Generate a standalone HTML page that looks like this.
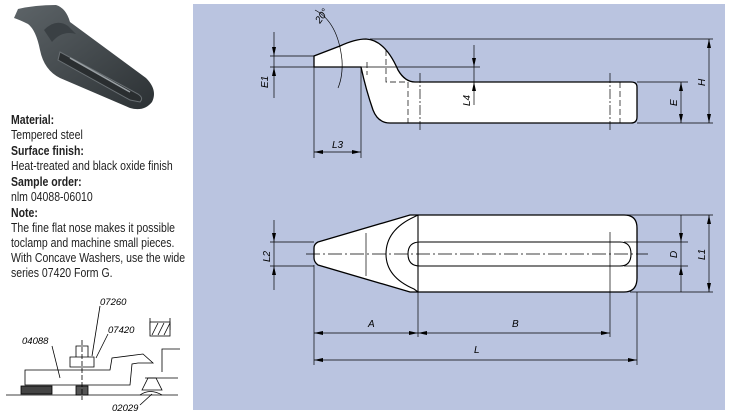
<!DOCTYPE html>
<html><head><meta charset="utf-8"><style>
body{margin:0;width:729px;height:416px;background:#fff;overflow:hidden;position:relative;font-family:"Liberation Sans",sans-serif}
#txt{position:absolute;left:11px;top:112px;transform:scaleX(0.84);transform-origin:0 0;font-size:12.5px;color:#222;line-height:15px;width:230px}
#txt b{display:block;margin-top:1px}
</style></head><body>
<svg width="729" height="416" style="position:absolute;left:0;top:0">
<defs><linearGradient id="g" x1="0" y1="0" x2="1" y2="1"><stop offset="0" stop-color="#5d6468"/><stop offset="1" stop-color="#2c3134"/></linearGradient></defs>
<path d="M14 18 L18 9 Q35 5 56 5 Q66 8 70 22 L146 78 Q158 90 152 102 Q144 112 130 108 L60 78 Q44 70 40 50 Q36 30 28 24 Q20 20 14 18 Z" fill="url(#g)"/>
<path d="M44 30 Q56 18 68 26 L76 34 Q62 30 52 42 Z" fill="#3a4044"/>
<path d="M60 52 L138 94 Q144 98 140 102 L130 100 L58 60 Z" fill="#2a2e30" stroke="#6a7074" stroke-width="1"/>
<path d="M70 58 L130 92" stroke="#9aa0a4" stroke-width="1.5"/>
<rect x="193" y="4" width="532" height="406" fill="#bac4e0"/>
<g stroke="#000" fill="none" stroke-width="0.7">
<path d="M314 56 L314 67 L361 67 Q366 90 373 110 Q378 123 390 123 L631 123 Q637 123 637 117 L637 87 Q637 82 631 82 L415 82 Q405 82 398 70 Q385 40 366 39 Q355 39 340 46 Z" fill="#fff" stroke-width="1.3"/>
<line x1="314" y1="67" x2="314" y2="158"/><line x1="361" y1="67" x2="361" y2="158"/>
<line x1="314" y1="152" x2="361" y2="152"/>
<line x1="270" y1="56" x2="314" y2="56"/><line x1="270" y1="67" x2="480" y2="67"/>
<line x1="274" y1="32" x2="274" y2="98"/>
<line x1="474" y1="45" x2="474" y2="105"/>
<line x1="370" y1="39" x2="713" y2="39"/><line x1="637" y1="123" x2="713" y2="123"/><line x1="637" y1="82" x2="688" y2="82"/>
<line x1="709" y1="39" x2="709" y2="123"/><line x1="681" y1="82" x2="681" y2="123"/>
<path d="M315 10 Q338 22 342 60 Q343 76 338 88"/>
<g stroke-dasharray="6 3"><path d="M386 50 L386 82 L405 82"/><line x1="408" y1="82" x2="408" y2="123"/><line x1="620" y1="82" x2="620" y2="123"/><line x1="367" y1="62" x2="367" y2="75"/></g>
<g stroke-dasharray="10 2 2 2"><line x1="420" y1="73" x2="420" y2="130"/><line x1="610" y1="73" x2="610" y2="130"/></g>
<path d="M318 242 L410 215 L624 215 Q637 215 637 228 L637 278 Q637 292 624 292 L410 292 L318 265 Q314 262 314 258 L314 248 Q314 244 318 242 Z" fill="#fff" stroke-width="1.3"/>
<path d="M418 215 L414 217 Q386 230 386 254 Q386 277 414 289 L418 292" stroke-width="1.1"/>
<line x1="418" y1="215" x2="418" y2="292" stroke-width="1.1"/>
<path d="M420 242 L620 242 Q631 242 631 254 Q631 266 620 266 L420 266 Q408 266 408 254 Q408 242 420 242 Z" stroke-width="1.1"/>
<line x1="366" y1="233" x2="366" y2="276"/>
<line x1="306" y1="254" x2="648" y2="254" stroke-dasharray="14 3 2 3"/>
<line x1="418" y1="232" x2="418" y2="337"/><line x1="610" y1="232" x2="610" y2="337"/>
<line x1="314" y1="265" x2="314" y2="365"/><line x1="637" y1="292" x2="637" y2="365"/>
<line x1="314" y1="333" x2="610" y2="333"/><line x1="314" y1="360" x2="637" y2="360"/>
<line x1="270" y1="242" x2="314" y2="242"/><line x1="270" y1="266" x2="314" y2="266"/>
<line x1="274" y1="220" x2="274" y2="290"/>
<line x1="624" y1="242" x2="688" y2="242"/><line x1="624" y1="266" x2="688" y2="266"/>
<line x1="681" y1="215" x2="681" y2="292"/>
<line x1="624" y1="215" x2="713" y2="215"/><line x1="630" y1="292" x2="713" y2="292"/>
<line x1="709" y1="215" x2="709" y2="292"/>
</g>
<g fill="#000">
<path d="M709 39 l-2 9 h4z M709 123 l-2 -9 h4z M681 82 l-2 9 h4z M681 123 l-2 -9 h4z M274 56 l-2 -9 h4z M274 67 l-2 9 h4z M474 67 l-2 -9 h4z M474 82 l-2 9 h4z M314 152 l9 -2 v4z M361 152 l-9 -2 v4z
M709 215 l-2 9 h4z M709 292 l-2 -9 h4z M681 242 l-2 -9 h4z M681 266 l-2 9 h4z M274 242 l-2 -9 h4z M274 266 l-2 9 h4z
M314 333 l9 -2 v4z M418 333 l-9 -2 v4z M418 333 l9 -2 v4z M610 333 l-9 -2 v4z M314 360 l9 -2 v4z M637 360 l-9 -2 v4z"/>
</g>
<g font-family="Liberation Sans" font-style="italic" font-size="10" fill="#000">
<text x="332" y="148">L3</text>
<text transform="translate(320,24) rotate(-55)">20°</text>
<text transform="translate(268,88) rotate(-90)">E1</text>
<text transform="translate(470,106) rotate(-90)">L4</text>
<text transform="translate(677,106) rotate(-90)">E</text>
<text transform="translate(705,86) rotate(-90)">H</text>
<text transform="translate(270,262) rotate(-90)">L2</text>
<text transform="translate(677,258) rotate(-90)">D</text>
<text transform="translate(705,260) rotate(-90)">L1</text>
<text x="368" y="327">A</text><text x="512" y="327">B</text><text x="474" y="353">L</text>
</g>
<g stroke="#000" fill="none" stroke-width="0.8">
<line x1="6" y1="395" x2="178" y2="395"/>
<path d="M25 385 L25 370 L110 370 L112 358 L143 354 L153 363 L138 363 L132 364 L130 385 Z"/>
<rect x="21" y="386" width="31" height="8" fill="#444"/>
<rect x="76" y="386" width="12" height="9" fill="#555"/>
<path d="M70 367 V357 H94 V367 Z M76 357 V346 H88 V357"/>
<line x1="82" y1="340" x2="82" y2="400" stroke-dasharray="5 2"/>
<path d="M150 330 V318 M170 330 V318"/><rect x="150" y="322" width="20" height="14" fill="#fff"/>
<path d="M152 335 l6 -12 M158 335 l6 -12 M164 335 l6 -12"/>
<path d="M162 372 V349 H180 M145 378 H178"/>
<path d="M142 390 L148 378 L156 378 L162 390 Z M140 395 Q150 388 162 395"/>
<line x1="52" y1="346" x2="60" y2="378"/><line x1="100" y1="306" x2="92" y2="356"/><line x1="108" y1="334" x2="96" y2="358"/><line x1="140" y1="405" x2="152" y2="394"/>
</g>
<g font-family="Liberation Sans" font-style="italic" font-size="9.5" fill="#000">
<text x="22" y="344">04088</text><text x="100" y="305">07260</text><text x="108" y="333">07420</text><text x="112" y="411">02029</text>
</g>
</svg>
<div id="txt">
<b>Material:</b>Tempered steel
<b>Surface finish:</b>Heat-treated and black oxide finish
<b>Sample order:</b>nlm 04088-06010
<b>Note:</b>The fine flat nose makes it possible<br>toclamp and machine small pieces.<br>With Concave Washers, use the wide<br>series 07420 Form G.
</div>
</body></html>
